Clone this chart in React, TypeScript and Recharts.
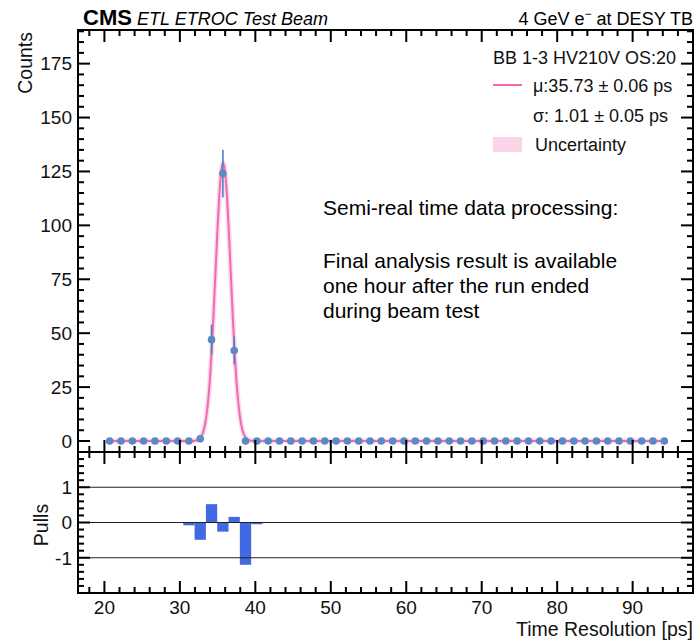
import React from 'react';
import { ComposedChart, Line, Scatter, ErrorBar, XAxis, YAxis, Bar, ReferenceLine } from 'recharts';

// ---- data ----
const binCenters = [20.7, 22.2, 23.7, 25.2, 26.7, 28.2, 29.7, 31.2, 32.7, 34.2, 35.7, 37.2, 38.7, 40.2, 41.7, 43.2, 44.7, 46.2, 47.7, 49.2, 50.7, 52.2, 53.7, 55.2, 56.7, 58.2, 59.7, 61.2, 62.7, 64.2, 65.7, 67.2, 68.7, 70.2, 71.7, 73.2, 74.7, 76.2, 77.7, 79.2, 80.7, 82.2, 83.7, 85.2, 86.7, 88.2, 89.7, 91.2, 92.7, 94.2];
const counts = [0, 0, 0, 0, 0, 0, 0, 0, 1, 47, 124, 42, 0, 0, 0, 0, 0, 0, 0, 0, 0, 0, 0, 0, 0, 0, 0, 0, 0, 0, 0, 0, 0, 0, 0, 0, 0, 0, 0, 0, 0, 0, 0, 0, 0, 0, 0, 0, 0, 0];
const countErrors = [0, 0, 0, 0, 0, 0, 0, 0, 1, 6.9, 11.1, 6.5, 0, 0, 0, 0, 0, 0, 0, 0, 0, 0, 0, 0, 0, 0, 0, 0, 0, 0, 0, 0, 0, 0, 0, 0, 0, 0, 0, 0, 0, 0, 0, 0, 0, 0, 0, 0, 0, 0];

const fitX = [20.7, 31.5, 32.0, 32.5, 32.75, 33.0, 33.25, 33.5, 33.75, 34.0, 34.25, 34.5, 34.75, 35.0, 35.25, 35.5, 35.73, 36.0, 36.25, 36.5, 36.75, 37.0, 37.25, 37.5, 37.75, 38.0, 38.25, 38.5, 38.75, 39.0, 39.5, 40.0, 94.2];
const fitY = [0, 0.02, 0.14, 0.78, 1.66, 3.35, 6.3, 11.3, 18.9, 29.7, 44.1, 61.5, 80.6, 99.4, 115.2, 125.7, 129, 124.5, 113.0, 96.5, 77.5, 58.5, 41.6, 27.8, 17.5, 10.3, 5.7, 3.0, 1.48, 0.68, 0.12, 0.02, 0];

const pullCenters = [31.2, 32.7, 34.2, 35.7, 37.2, 38.7, 40.2];
const pullValues = [-0.08, -0.49, 0.52, -0.26, 0.16, -1.2, -0.05];

const xTicks = [18, 20, 22, 24, 26, 28, 30, 32, 34, 36, 38, 40, 42, 44, 46, 48, 50, 52, 54, 56, 58, 60, 62, 64, 66, 68, 70, 72, 74, 76, 78, 80, 82, 84, 86, 88, 90, 92, 94, 96];
const yTicks = [0, 5, 10, 15, 20, 25, 30, 35, 40, 45, 50, 55, 60, 65, 70, 75, 80, 85, 90, 95, 100, 105, 110, 115, 120, 125, 130, 135, 140, 145, 150, 155, 160, 165, 170, 175, 180, 185, 190];
const pullTicks = [-1.8, -1.6, -1.4, -1.2, -1, -0.8, -0.6, -0.4, -0.2, 0, 0.2, 0.4, 0.6, 0.8, 1, 1.2, 1.4, 1.6, 1.8];
const pullLines = [1, 0, -1];

const pointData = binCenters.map((x, i) => ({ x, y: counts[i], err: countErrors[i] }));
const fitData = fitX.map((x, i) => ({ x, y: fitY[i] }));
const pullData = pullCenters.map((x, i) => ({ x, pull: pullValues[i] }));

const X_DOMAIN: [number, number] = [16.5, 98];
const Y_DOMAIN: [number, number] = [-5.1, 190.6];
const P_DOMAIN: [number, number] = [-2, 2];

// ---- style ----
const FONT = '"Liberation Sans", Arial, Helvetica, sans-serif';
const LEFT = 78;
const RIGHT = 693;
const TOP1 = 30;
const BOT1 = 452;
const PT = 8; // pull panel top (local)
const PB = 149; // pull panel bottom (local)
const TW = 2; // tick width
const PINK = '#f06bb2';
const BAND = '#fbd9e9';
const BLUE_PT = '#5a8ac3';
const BAR = '#4169e1';

const isMajorX = (v: number) => v % 10 === 0;
const isMajorY = (v: number) => v % 25 === 0;
const isMajorP = (v: number) => Math.abs(v - Math.round(v)) < 1e-6;

const VTick = ({ x, y0, len }: { x: number; y0: number; len: number }) => (
  <rect x={x - TW / 2} y={len > 0 ? y0 : y0 + len} width={TW} height={Math.abs(len)} fill="#000" />
);
const HTick = ({ y, x0, len }: { y: number; x0: number; len: number }) => (
  <rect x={len > 0 ? x0 : x0 + len} y={y - TW / 2} width={Math.abs(len)} height={TW} fill="#000" />
);

const TopXTick = (props: any) => {
  const x = Number(props.x);
  const len = isMajorX(props.payload.value) ? 12 : 6;
  return (
    <g>
      <VTick x={x} y0={BOT1} len={-len} />
      <VTick x={x} y0={TOP1} len={len} />
    </g>
  );
};

const BottomXTick = (props: any) => {
  const x = Number(props.x);
  const v = props.payload.value;
  const major = isMajorX(v);
  const len = major ? 12 : 6;
  return (
    <g>
      <VTick x={x} y0={PB} len={-len} />
      <VTick x={x} y0={PT} len={len} />
      {major && x >= LEFT && x <= RIGHT ? (
        <text x={x} y={PB + 21} textAnchor="middle" fontSize={19} fontFamily={FONT} fill="#111">
          {v}
        </text>
      ) : null}
    </g>
  );
};

const TopYTick = (props: any) => {
  const y = Number(props.y);
  const v = props.payload.value;
  const major = isMajorY(v);
  const len = major ? 12 : 6;
  return (
    <g>
      <HTick y={y} x0={LEFT} len={len} />
      <HTick y={y} x0={RIGHT} len={-len} />
      {major ? (
        <text x={72} y={y + 6.8} textAnchor="end" fontSize={19} fontFamily={FONT} fill="#111">
          {v}
        </text>
      ) : null}
    </g>
  );
};

const PullYTick = (props: any) => {
  const y = Number(props.y);
  const v = props.payload.value;
  const major = isMajorP(v);
  const len = major ? 12 : 6;
  return (
    <g>
      <HTick y={y} x0={LEFT} len={len} />
      <HTick y={y} x0={RIGHT} len={-len} />
      {major ? (
        <text x={72} y={y + 6.8} textAnchor="end" fontSize={19} fontFamily={FONT} fill="#111">
          {v}
        </text>
      ) : null}
    </g>
  );
};

const Dot = (props: any) => <circle cx={props.cx} cy={props.cy} r={3.8} fill={BLUE_PT} />;

export default function App() {
  return (
    <div style={{ position: 'absolute', left: 0, top: 0, width: 700, height: 641, background: '#fff', fontFamily: FONT }}>
      <div style={{ position: 'absolute', left: 0, top: 0 }}>
        <ComposedChart width={700} height={460} margin={{ top: 30, right: 7, bottom: 0, left: 0 }}>
          <XAxis type="number" dataKey="x" domain={X_DOMAIN} allowDataOverflow ticks={xTicks} interval={0} height={8} axisLine={false} tickLine={false} tick={TopXTick} />
          <YAxis type="number" domain={Y_DOMAIN} allowDataOverflow ticks={yTicks} interval={0} width={78} axisLine={false} tickLine={false} tick={TopYTick} />
          <Line data={fitData} dataKey="y" type="monotone" stroke={BAND} strokeWidth={5} dot={false} isAnimationActive={false} />
          <Line data={fitData} dataKey="y" type="monotone" stroke={PINK} strokeWidth={2} dot={false} isAnimationActive={false} />
          <Scatter data={pointData} dataKey="y" fill={BLUE_PT} shape={Dot} isAnimationActive={false}>
            <ErrorBar dataKey="err" direction="y" width={0} stroke="#4f7fbd" strokeWidth={1.6} />
          </Scatter>
        </ComposedChart>
      </div>
      <div style={{ position: 'absolute', left: 0, top: 444 }}>
        <ComposedChart data={pullData} width={700} height={197} margin={{ top: 8, right: 7, bottom: 0, left: 0 }}>
          <XAxis type="number" dataKey="x" domain={X_DOMAIN} allowDataOverflow ticks={xTicks} interval={0} height={48} axisLine={false} tickLine={false} tick={BottomXTick} />
          <YAxis type="number" domain={P_DOMAIN} allowDataOverflow ticks={pullTicks} interval={0} width={78} axisLine={false} tickLine={false} tick={PullYTick} />
          {pullLines.map((v) => (
            <ReferenceLine key={`g${v}`} y={v} stroke="#222" strokeWidth={1.2} />
          ))}
          <Bar dataKey="pull" fill={BAR} barSize={11.3} isAnimationActive={false} />
        </ComposedChart>
      </div>
      <svg width={700} height={641} style={{ position: 'absolute', left: 0, top: 0, pointerEvents: 'none' }}>
        <rect x={LEFT} y={TOP1} width={RIGHT - LEFT} height={BOT1 - TOP1} fill="none" stroke="#000" strokeWidth={2} />
        <rect x={LEFT} y={BOT1} width={RIGHT - LEFT} height={593 - BOT1} fill="none" stroke="#000" strokeWidth={2} />
        <text x={83} y={25} fontSize={22} fontWeight="bold" fontFamily={FONT} fill="#000">CMS</text>
        <text x={137} y={25} fontSize={18} fontStyle="italic" fontFamily={FONT} fill="#000">ETL ETROC Test Beam</text>
        <text x={693} y={25} fontSize={18} textAnchor="end" fontFamily={FONT} fill="#000">
          4 GeV e<tspan fontSize={12} dy={-7}>−</tspan><tspan dy={7}> at DESY TB</tspan>
        </text>
        <text x={32} y={32} fontSize={19.5} textAnchor="end" fontFamily={FONT} fill="#111" transform="rotate(-90 32 32)">Counts</text>
        <text x={48} y={525} fontSize={19.5} textAnchor="middle" fontFamily={FONT} fill="#111" transform="rotate(-90 48 525)">Pulls</text>
        <text x={693} y={636} fontSize={19.5} textAnchor="end" fontFamily={FONT} fill="#111">Time Resolution [ps]</text>

        <text x={493} y={63.5} fontSize={18} fontFamily={FONT} fill="#111">BB 1-3 HV210V OS:20</text>
        <line x1={493} x2={522} y1={85} y2={85} stroke={PINK} strokeWidth={2} />
        <text x={533} y={91.5} fontSize={18} fontFamily={FONT} fill="#111">μ:35.73 ± 0.06 ps</text>
        <text x={533} y={121.5} fontSize={18} fontFamily={FONT} fill="#111">σ: 1.01 ± 0.05 ps</text>
        <rect x={493} y={137} width={29} height={15} fill="#fbd5e7" />
        <text x={535} y={150.5} fontSize={18} fontFamily={FONT} fill="#111">Uncertainty</text>

        <text x={323} y={215} fontSize={21} fontFamily={FONT} fill="#000">Semi-real time data processing:</text>
        <text x={323} y={268} fontSize={21} fontFamily={FONT} fill="#000">Final analysis result is available</text>
        <text x={323} y={293} fontSize={21} fontFamily={FONT} fill="#000">one hour after the run ended</text>
        <text x={323} y={318} fontSize={21} fontFamily={FONT} fill="#000">during beam test</text>
      </svg>
    </div>
  );
}
